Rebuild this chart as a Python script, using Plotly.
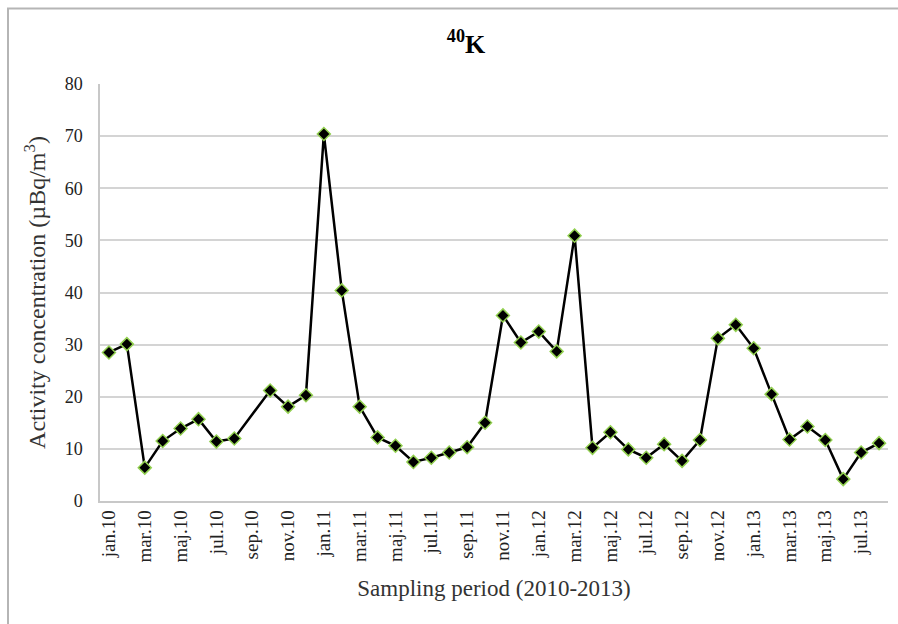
import plotly.graph_objects as go

# Monthly sampling periods (2010-2013)
months = ["jan", "feb", "mar", "apr", "maj", "jun", "jul", "avg", "sep", "okt", "nov", "dec"]
periods = [f"{m}.{y}" for y in ["10", "11", "12", "13"] for m in months][:44]

# Every second month is labelled on the axis
tick_labels = periods[::2]

# 40K activity concentration (µBq/m³); sep.10 was not measured
k40 = [28.5, 30.1, 6.4, 11.5, 13.9, 15.7, 11.4, 12.0, None, 21.2, 18.1, 20.3,
       70.4, 40.4, 18.1, 12.2, 10.6, 7.5, 8.3, 9.3, 10.3, 15.0, 35.6, 30.4,
       32.5, 28.7, 50.9, 10.2, 13.2, 9.9, 8.3, 10.9, 7.7, 11.7, 31.2, 33.8,
       29.3, 20.5, 11.8, 14.3, 11.7, 4.2, 9.3, 11.1]

serif = "Liberation Serif, Times New Roman, serif"

fig = go.Figure()
fig.add_trace(go.Scatter(
    x=periods, y=k40, mode="lines+markers", connectgaps=True,
    line=dict(color="black", width=2.5),
    marker=dict(symbol="diamond", size=10, color="black",
                line=dict(color="#92d050", width=1.5)),
    showlegend=False,
))

fig.update_layout(
    width=898, height=624,
    margin=dict(l=100, r=10, t=84, b=123),
    paper_bgcolor="white", plot_bgcolor="white",
    font=dict(family=serif, color="#222"),
    title=dict(text="<b><sup>40</sup>K</b>", x=466 / 898, xanchor="center",
               y=1 - 44 / 624, yanchor="middle",
               font=dict(family=serif, size=26, color="black")),
    xaxis=dict(
        type="category", categoryorder="array", categoryarray=periods,
        tickmode="array", tickvals=tick_labels, ticktext=tick_labels,
        tickangle=-90, tickfont=dict(family=serif, size=19, color="#222"),
        showgrid=False, showline=True, linecolor="#c8c8c8", linewidth=1.5,
        ticks="", range=[-0.5, 43.5],
        title=dict(text="Sampling period (2010-2013)", standoff=18,
                   font=dict(family=serif, size=23, color="#333")),
    ),
    yaxis=dict(
        range=[0, 80], tickvals=list(range(0, 81, 10)),
        tickfont=dict(family=serif, size=18, color="#222"),
        ticklabelstandoff=12,
        showgrid=True, gridcolor="#d4d4d4", gridwidth=1.5,
        showline=True, linecolor="#c8c8c8", linewidth=1.5,
        zeroline=False, ticks="", ticklen=0,
        title=dict(text="Activity concentration (µBq/m<sup>3</sup>)", standoff=12,
                   font=dict(family=serif, size=24, color="#333")),
    ),
    shapes=[dict(type="rect", xref="paper", yref="paper",
                 x0=(8 - 100) / 788, x1=(905 - 100) / 788,
                 y0=(501 - 630) / 417, y1=(501 - 8.5) / 417,
                 line=dict(color="#b5b5b5", width=2), fillcolor="rgba(0,0,0,0)",
                 layer="below")],
)

fig.write_html("out.html")
